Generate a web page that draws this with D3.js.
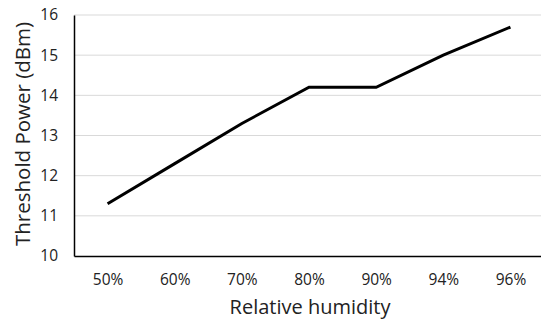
<!DOCTYPE html>
<html>
<head>
<meta charset="utf-8">
<script src="https://cdn.jsdelivr.net/npm/d3@7"></script>
<style>
  body { margin: 0; background: #fff; }
  text { font-family: "Open Sans", "Noto Sans", sans-serif; fill: #222; }
</style>
</head>
<body>
<div id="chart"></div>
<script>
var humidity = ["50%", "60%", "70%", "80%", "90%", "94%", "96%"];
var threshold = [11.3, 12.3, 13.3, 14.2, 14.2, 15.0, 15.7];
var yTicks = [10, 11, 12, 13, 14, 15, 16];

var svgWidth = 541;
var svgHeight = 322;

var chartMargin = {
    top:    15,
    right:  -3,
    bottom: 66,
    left:   74
};

var chartWidth = svgWidth - chartMargin.left - chartMargin.right;
var chartHeight = svgHeight - chartMargin.top - chartMargin.bottom;

var svg = d3.select("#chart")
    .append("svg")
    .attr("width", svgWidth)
    .attr("height", svgHeight);

var chartGroup = svg.append("g")
    .attr("transform", `translate(${chartMargin.left}, ${chartMargin.top})`);

var xScale = d3.scalePoint()
    .domain(humidity)
    .range([0, chartWidth])
    .padding(0.5);

var yScale = d3.scaleLinear()
    .domain([10, 16])
    .range([chartHeight, 0]);

// gridlines
chartGroup.append("g")
    .selectAll("line")
    .data(yTicks.slice(1))
    .enter()
    .append("line")
    .attr("x1", 0)
    .attr("x2", chartWidth)
    .attr("y1", d => yScale(d))
    .attr("y2", d => yScale(d))
    .attr("stroke", "#d9d9d9")
    .attr("stroke-width", 1);

var yAxis = d3.axisLeft(yScale).tickValues(yTicks).tickFormat(d3.format("d")).tickSize(0).tickPadding(16);
var xAxis = d3.axisBottom(xScale).tickSize(0).tickPadding(18);

var yg = chartGroup.append("g").call(yAxis);
yg.select(".domain").attr("stroke", "#000").attr("stroke-width", 1.5);
yg.selectAll("text").style("font-size", "15.5px").attr("fill", "#222");

var xg = chartGroup.append("g")
    .attr("transform", `translate(0, ${chartHeight})`)
    .call(xAxis);
xg.select(".domain").attr("stroke", "#000").attr("stroke-width", 1.5);
xg.selectAll("text").style("font-size", "15.5px").attr("fill", "#222");

var line = d3.line()
    .x((d, i) => xScale(humidity[i]))
    .y(d => yScale(d));

chartGroup.append("path")
    .datum(threshold)
    .attr("d", line)
    .attr("fill", "none")
    .attr("stroke", "#000")
    .attr("stroke-width", 3);

// axis titles
svg.append("text")
    .attr("x", 310)
    .attr("y", 314)
    .attr("text-anchor", "middle")
    .style("font-size", "20px")
    .text("Relative humidity");

svg.append("text")
    .attr("transform", "rotate(-90)")
    .attr("x", -134)
    .attr("y", 30)
    .attr("text-anchor", "middle")
    .style("font-size", "20.5px")
    .text("Threshold Power (dBm)");
</script>
</body>
</html>
